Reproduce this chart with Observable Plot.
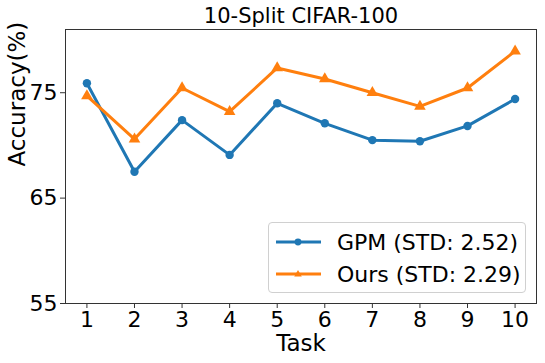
<!DOCTYPE html>
<html><head><meta charset="utf-8">
<script src="https://cdn.jsdelivr.net/npm/d3@7"></script>
<script src="https://cdn.jsdelivr.net/npm/@observablehq/plot@0.6"></script>
<style>
body{margin:0;background:#fff;}
#wrap{position:relative;width:545px;height:363px;font-family:"DejaVu Sans",sans-serif;}
#legend{position:absolute;left:268px;top:222px;width:258px;height:71px;border:1px solid #d0d0d0;border-radius:4px;background:rgba(255,255,255,0.8);box-sizing:border-box;}
.row{position:absolute;left:0;height:30px;display:flex;align-items:center;font-size:22px;color:#000;white-space:nowrap;}
.row svg{margin-left:7px;margin-right:16px;}
</style>
</head><body><div id="wrap"></div>
<script>
const tasks = [1, 2, 3, 4, 5, 6, 7, 8, 9, 10];
const gpm = [75.9, 67.5, 72.4, 69.1, 74.0, 72.1, 70.5, 70.4, 71.85, 74.4];
const ours = [74.7, 70.6, 75.45, 73.2, 77.35, 76.3, 75.0, 73.7, 75.45, 78.95];
const yTicks = [55, 65, 75];
const seriesNames = ["GPM (STD: 2.52)", "Ours (STD: 2.29)"];
const colors = ["#1f77b4", "#ff7f0e"];
const title = "10-Split CIFAR-100";
const xLabel = "Task";
const yLabel = "Accuracy(%)";

const gpmData = tasks.map((t, i) => ({task: t, acc: gpm[i], s: seriesNames[0]}));
const oursData = tasks.map((t, i) => ({task: t, acc: ours[i], s: seriesNames[1]}));

const plot = Plot.plot({
  width: 545, height: 363,
  marginLeft: 65, marginRight: 9, marginTop: 29, marginBottom: 60,
  style: {fontFamily: "DejaVu Sans, sans-serif", background: "white", color: "#000"},
  x: {domain: [0.55, 10.45]},
  y: {domain: [55, 81]},
  color: {domain: seriesNames, range: colors},
  marks: [
    Plot.frame({stroke: "#333", strokeWidth: 1}),
    Plot.axisY({ticks: yTicks, tickSize: 5, tickPadding: 3, fontSize: 22, label: null, stroke: "#333"}),
    Plot.axisX({ticks: tasks, tickSize: 5, tickPadding: 3, fontSize: 22, label: null, stroke: "#333"}),
    Plot.line(gpmData, {x: "task", y: "acc", stroke: "s", strokeWidth: 3}),
    Plot.line(oursData, {x: "task", y: "acc", stroke: "s", strokeWidth: 3}),
    Plot.dot(gpmData, {x: "task", y: "acc", fill: "s", r: 4.2, symbol: "circle"}),
    Plot.dot(oursData, {x: "task", y: "acc", fill: "s", r: 4.3, symbol: "triangle"}),
    Plot.text([yLabel], {text: d => d, frameAnchor: "left", rotate: -90, dx: -48, fontSize: 23, lineAnchor: "middle"}),
    Plot.text([xLabel], {text: d => d, frameAnchor: "bottom", dy: 40, fontSize: 23, lineAnchor: "middle"}),
    Plot.text([title], {text: d => d, frameAnchor: "top", dy: -13, fontSize: 21, lineAnchor: "middle"})
  ]
});
const wrap = document.getElementById("wrap");
wrap.appendChild(plot);

const legend = document.createElement("div");
legend.id = "legend";
const sym = [
  '<circle cx="22" cy="10" r="3.4" fill="' + colors[0] + '"/>',
  '<path d="M22,6 L25.8,12.5 L18.2,12.5 Z" fill="' + colors[1] + '"/>'
];
seriesNames.forEach((name, i) => {
  const row = document.createElement("div");
  row.className = "row";
  row.style.top = (4 + i * 32) + "px";
  row.innerHTML = '<svg width="45" height="20"><line x1="0" y1="10" x2="45" y2="10" stroke="' + colors[i] + '" stroke-width="3"/>' + sym[i] + '</svg><span>' + name + '</span>';
  legend.appendChild(row);
});
wrap.appendChild(legend);
</script>
</body></html>
